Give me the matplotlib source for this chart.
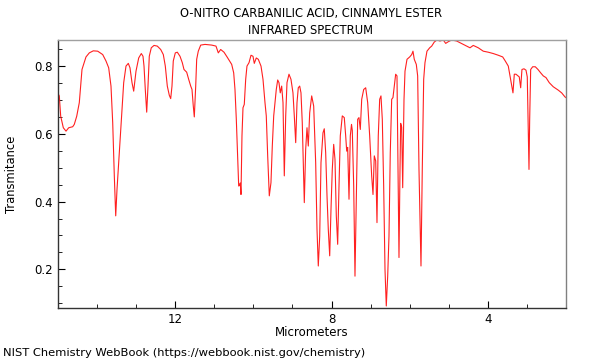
import matplotlib
matplotlib.use("Agg")
import matplotlib.pyplot as plt
from matplotlib.ticker import MultipleLocator, FixedLocator

title_lines = ["O-NITRO CARBANILIC ACID, CINNAMYL ESTER", "INFRARED SPECTRUM"]
x_label = "Micrometers"
y_label = "Transmitance"
footer = "NIST Chemistry WebBook (https://webbook.nist.gov/chemistry)"

wavelength_um = [
    15.000, 14.967, 14.931, 14.864, 14.795, 14.726, 14.624, 14.583, 14.521, 14.455,
    14.386, 14.284, 14.199, 14.097, 13.984, 13.856, 13.772, 13.703, 13.644, 13.600,
    13.559, 13.523, 13.490, 13.447, 13.388, 13.319, 13.260, 13.201, 13.158, 13.106,
    13.063, 13.004, 12.935, 12.868, 12.825, 12.799, 12.766, 12.730, 12.697, 12.664,
    12.613, 12.543, 12.459, 12.372, 12.305, 12.254, 12.203, 12.152, 12.116, 12.083,
    12.050, 11.998, 11.947, 11.878, 11.819, 11.776, 11.707, 11.656, 11.604, 11.571,
    11.538, 11.512, 11.476, 11.451, 11.410, 11.348, 11.238, 11.067, 10.957, 10.898,
    10.837, 10.752, 10.668, 10.555, 10.504, 10.471, 10.437, 10.402, 10.376, 10.350,
    10.335, 10.317, 10.292, 10.266, 10.233, 10.197, 10.164, 10.112, 10.061, 10.010,
    9.977, 9.926, 9.874, 9.805, 9.754, 9.703, 9.670, 9.634, 9.593, 9.550,
    9.516, 9.480, 9.447, 9.414, 9.378, 9.345, 9.312, 9.276, 9.242, 9.209,
    9.173, 9.140, 9.089, 9.038, 8.987, 8.953, 8.917, 8.884, 8.851, 8.815,
    8.782, 8.749, 8.725, 8.697, 8.662, 8.628, 8.595, 8.559, 8.508, 8.457,
    8.406, 8.372, 8.339, 8.303, 8.270, 8.219, 8.186, 8.150, 8.116, 8.083,
    8.047, 8.014, 7.981, 7.945, 7.912, 7.878, 7.843, 7.809, 7.776, 7.725,
    7.674, 7.638, 7.612, 7.587, 7.553, 7.520, 7.489, 7.469, 7.433, 7.400,
    7.367, 7.331, 7.298, 7.264, 7.228, 7.177, 7.126, 7.075, 7.024, 6.973,
    6.939, 6.906, 6.870, 6.837, 6.804, 6.768, 6.735, 6.701, 6.666, 6.632,
    6.599, 6.563, 6.530, 6.497, 6.461, 6.428, 6.394, 6.359, 6.325, 6.300,
    6.274, 6.248, 6.231, 6.205, 6.179, 6.146, 6.120, 6.069, 6.000, 5.949,
    5.916, 5.883, 5.831, 5.796, 5.762, 5.711, 5.678, 5.642, 5.609, 5.558,
    5.488, 5.437, 5.371, 5.302, 5.225, 5.140, 5.079, 5.012, 4.925, 4.798,
    4.629, 4.457, 4.373, 4.245, 4.117, 3.989, 3.861, 3.733, 3.620, 3.554,
    3.477, 3.434, 3.400, 3.357, 3.323, 3.280, 3.229, 3.196, 3.160, 3.127,
    3.075, 3.024, 2.991, 2.965, 2.947, 2.930, 2.904, 2.853, 2.786, 2.717,
    2.648, 2.581, 2.512, 2.428, 2.326, 2.198, 2.111, 2.026, 2.001,
]

transmittance = [
    0.719, 0.712, 0.652, 0.618, 0.608, 0.618, 0.621, 0.628, 0.652, 0.692,
    0.790, 0.827, 0.839, 0.845, 0.844, 0.834, 0.815, 0.795, 0.741, 0.633,
    0.476, 0.358, 0.436, 0.515, 0.623, 0.751, 0.800, 0.808, 0.795, 0.751,
    0.726, 0.785, 0.824, 0.837, 0.829, 0.800, 0.731, 0.664, 0.741, 0.829,
    0.854, 0.861, 0.859, 0.849, 0.834, 0.800, 0.741, 0.714, 0.704, 0.741,
    0.815, 0.839, 0.841, 0.829, 0.810, 0.790, 0.782, 0.761, 0.741, 0.731,
    0.682, 0.650, 0.741, 0.820, 0.844, 0.862, 0.864, 0.862, 0.859, 0.839,
    0.849, 0.841, 0.826, 0.805, 0.780, 0.731, 0.643, 0.535, 0.446, 0.448,
    0.455, 0.421, 0.594, 0.677, 0.687, 0.761, 0.800, 0.810, 0.832, 0.829,
    0.808, 0.824, 0.820, 0.800, 0.761, 0.692, 0.653, 0.535, 0.417, 0.456,
    0.564, 0.653, 0.692, 0.731, 0.759, 0.751, 0.721, 0.741, 0.692, 0.476,
    0.653, 0.751, 0.776, 0.761, 0.721, 0.653, 0.574, 0.692, 0.736, 0.741,
    0.721, 0.633, 0.520, 0.397, 0.554, 0.618, 0.564, 0.662, 0.712, 0.682,
    0.515, 0.318, 0.210, 0.298, 0.515, 0.603, 0.615, 0.544, 0.417, 0.318,
    0.240, 0.377, 0.495, 0.569, 0.525, 0.358, 0.274, 0.446, 0.594, 0.653,
    0.648, 0.594, 0.549, 0.560, 0.407, 0.594, 0.628, 0.610, 0.446, 0.180,
    0.397, 0.643, 0.648, 0.613, 0.702, 0.731, 0.736, 0.692, 0.594, 0.476,
    0.421, 0.535, 0.520, 0.338, 0.594, 0.702, 0.712, 0.643, 0.446, 0.200,
    0.092, 0.180, 0.298, 0.544, 0.702, 0.707, 0.741, 0.776, 0.771, 0.495,
    0.235, 0.495, 0.631, 0.620, 0.441, 0.700, 0.785, 0.820, 0.827, 0.834,
    0.844, 0.820, 0.805, 0.771, 0.495, 0.210, 0.495, 0.761, 0.810, 0.844,
    0.854, 0.859, 0.871, 0.877, 0.874, 0.877, 0.867, 0.872, 0.877, 0.874,
    0.864, 0.854, 0.861, 0.854, 0.844, 0.841, 0.837, 0.832, 0.827, 0.815,
    0.800, 0.771, 0.750, 0.721, 0.776, 0.776, 0.771, 0.768, 0.736, 0.790,
    0.792, 0.788, 0.768, 0.600, 0.495, 0.640, 0.790, 0.798, 0.798, 0.790,
    0.780, 0.771, 0.766, 0.751, 0.739, 0.729, 0.721, 0.709, 0.707,
]

x_major_ticks = [12, 8, 4]
x_tick_labels = ["12", "8", "4"]
y_major_ticks = [0.2, 0.4, 0.6, 0.8]
y_tick_labels = ["0.2", "0.4", "0.6", "0.8"]

fig = plt.figure(figsize=(6, 3.6), dpi=100)
ax = fig.add_axes([58/600, 1-308/360, (566-58)/600, (308-40)/360])

ax.plot(wavelength_um, transmittance, color="#ff2020", linewidth=0.8)

ax.set_xlim(15, 2)
ax.set_ylim(0.086, 0.877)

ax.xaxis.set_major_locator(FixedLocator(x_major_ticks))
ax.set_xticklabels(x_tick_labels)
ax.xaxis.set_minor_locator(MultipleLocator(1))
ax.yaxis.set_major_locator(FixedLocator(y_major_ticks))
ax.set_yticklabels(y_tick_labels)
ax.yaxis.set_minor_locator(MultipleLocator(0.05))

ax.tick_params(which="both", direction="in", labelsize=8.5, top=False, right=False)
ax.tick_params(which="major", length=5, width=0.8)
ax.tick_params(which="minor", length=3, width=0.6)

ax.spines["top"].set_color("#a0a0a0")
ax.spines["right"].set_color("#808080")
ax.spines["left"].set_color("#333333")
ax.spines["bottom"].set_color("#333333")
for s in ax.spines.values():
    s.set_linewidth(1.0)

ax.set_xlabel(x_label, fontsize=8.5, labelpad=0)
ax.set_ylabel(y_label, fontsize=8.3, labelpad=12)

fig.text(311/600, 1-13/360, title_lines[0], ha="center", va="center", fontsize=8.3)
fig.text(311/600, 1-30/360, title_lines[1], ha="center", va="center", fontsize=8.3)
fig.text(3/600, 1-353/360, footer, ha="left", va="center", fontsize=8.25)

fig.savefig("out.png", dpi=100)
